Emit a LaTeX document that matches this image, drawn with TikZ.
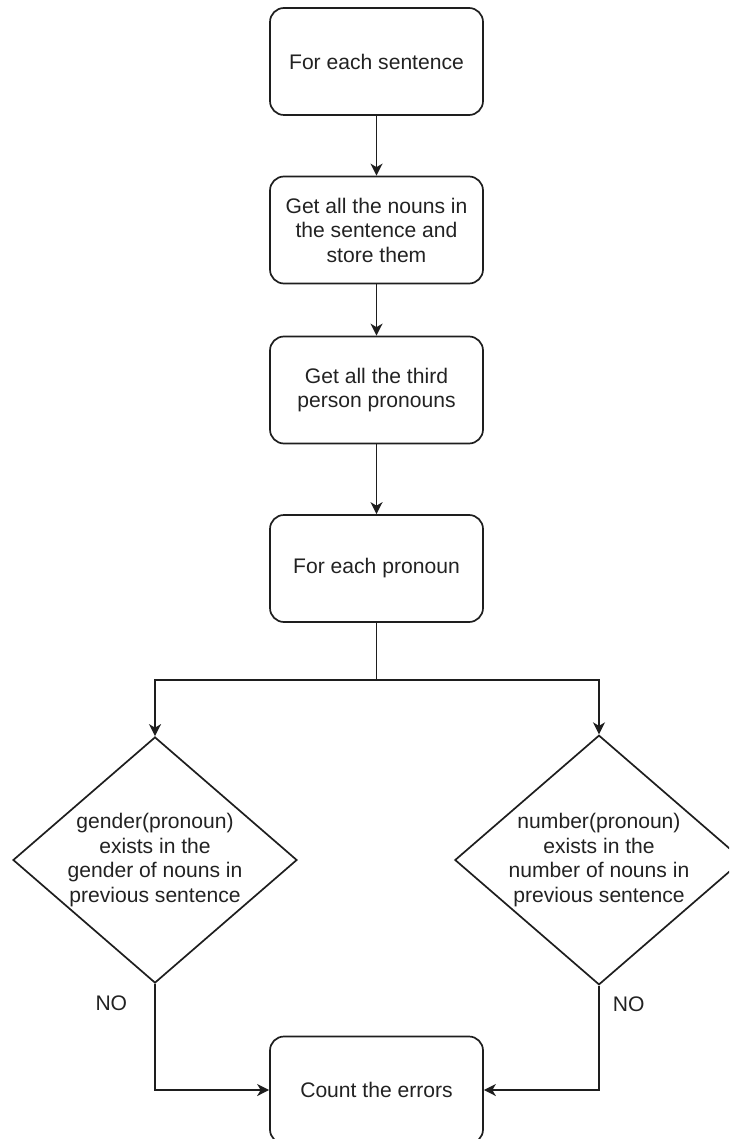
\documentclass[tikz,border=0pt]{standalone}
\usepackage{fontspec}
\setmainfont{Liberation Sans}
\usetikzlibrary{arrows.meta,positioning,shapes.geometric}
\definecolor{linegray}{RGB}{30,30,30}
\definecolor{textgray}{RGB}{34,34,34}

\begin{document}
\begin{tikzpicture}[x=1pt, y=-1pt,
  every node/.style={font=\fontsize{21.1}{24.5}\selectfont, text=textgray},
  stepbox/.style={draw=linegray, line width=1.7pt, rounded corners=14pt,
    minimum width=213pt, minimum height=107pt, align=center, inner sep=0pt},
  decision/.style={draw=linegray, line width=1.7pt, diamond, aspect=1.155,
    minimum width=284pt, minimum height=246pt, align=center, inner sep=0pt},
  flow/.style={draw=linegray, line width=1.7pt, -{Stealth[length=12pt,width=12pt,inset=3.5pt]}},
  answer/.style={inner sep=0pt}]
  \useasboundingbox (0,0) rectangle (729,1139);
  \clip (0,0) rectangle (729,1139);
  % Steps
  \node[stepbox] (sentence) at (376.5,61.5) {For each sentence};
  \node[stepbox] (nouns) at (376.5,230) {Get all the nouns in\\the sentence and\\store them};
  \node[stepbox] (pronouns) at (376.5,390) {Get all the third\\person pronouns};
  \node[stepbox] (each) at (376.5,568.5) {For each pronoun};
  % Checks
  \node[decision] (gender) at (155,860) {gender(pronoun)\\exists in the\\gender of nouns in\\previous sentence};
  \node[decision] (number) at (599,860) {number(pronoun)\\exists in the\\number of nouns in\\previous sentence};
  \node[stepbox] (count) at (376.5,1090) {Count the errors};
  % Connectors
  \draw[flow] (sentence) -- (nouns);
  \draw[flow] (nouns) -- (pronouns);
  \draw[flow] (pronouns) -- (each);
  \draw[flow] (each.south) -- ++(0,57) -| (gender.north);
  \draw[flow] (each.south) -- ++(0,57) -| (number.north);
  \draw[flow] (gender.south) |- node[answer, pos=0.089, left=27pt] {NO} (count.west);
  \draw[flow] (number.south) |- node[answer, pos=0.089, right=13pt] {NO} (count.east);
\end{tikzpicture}
\end{document}
